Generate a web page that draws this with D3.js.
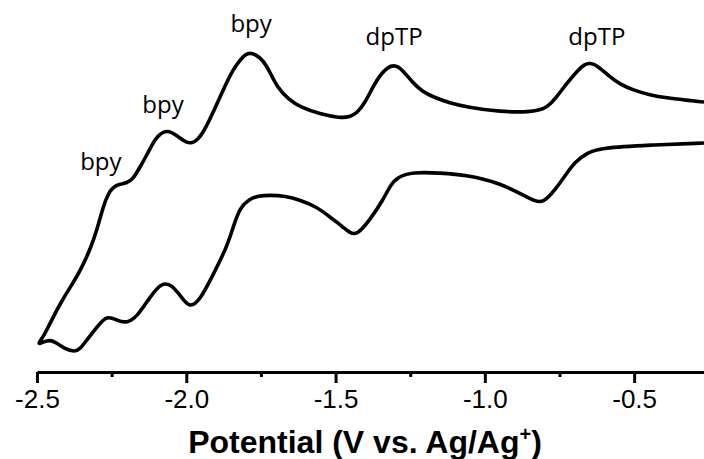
<!DOCTYPE html>
<meta charset="utf-8">
<style>
body { margin: 0; background: #fff; }
.cv { fill: none; stroke: #000; stroke-width: 3.6px; stroke-linejoin: round; }
.axis path, .axis line { stroke: #000; stroke-width: 3px; }
.axis text { font-family: "Liberation Sans", Arial, sans-serif; font-size: 26px; fill: #000; }
.peak { font-family: "Open Sans", sans-serif; font-size: 24px; fill: #000; }
.title { font-family: "Liberation Sans", Arial, sans-serif; font-size: 32px; font-weight: bold; fill: #000; }
</style>
<body>
<svg width="704" height="459"></svg>
<script src="https://d3js.org/d3.v7.min.js"></script>
<script>

var cathodicV = [-0.266, -0.447, -0.614, -0.658, -0.698, -0.725, -0.765, -0.805, -0.832, -0.859,
  -0.949, -1.060, -1.150, -1.241, -1.294, -1.318, -1.341, -1.385, -1.428, -1.452, -1.475, -1.519,
  -1.562, -1.619, -1.669, -1.720, -1.760, -1.787, -1.820, -1.844, -1.864, -1.914, -1.954, -1.988,
  -2.014, -2.048, -2.081, -2.122, -2.165, -2.199, -2.229, -2.266, -2.299, -2.333, -2.356, -2.373,
  -2.406, -2.440, -2.456, -2.480, -2.500];
var cathodicI = [22.9, 22.7, 22.4, 21.9, 21.0, 19.9, 18.2, 16.9, 17.1, 17.5,
  18.9, 19.7, 19.9, 20.0, 19.5, 18.6, 17.2, 15.2, 13.7, 13.9, 14.5, 15.5,
  16.5, 17.2, 17.6, 17.7, 17.6, 17.3, 16.5, 14.4, 12.5, 9.5, 7.2, 6.4,
  7.4, 8.7, 9.0, 7.5, 5.5, 4.9, 5.1, 5.7, 4.5, 3.2, 2.3, 2.0,
  2.3, 3.0, 3.2, 3.0, 2.7];

// anodic sweep, from -2.5 V back to -0.27 V
var anodicV = [-2.500, -2.477, -2.456, -2.416, -2.379, -2.349, -2.323, -2.299, -2.279, -2.262,
  -2.245, -2.222, -2.199, -2.178, -2.155, -2.132, -2.112, -2.095, -2.078, -2.061, -2.045, -2.021,
  -1.998, -1.978, -1.961, -1.944, -1.914, -1.887, -1.864, -1.844, -1.820, -1.800, -1.787, -1.770,
  -1.743, -1.720, -1.696, -1.659, -1.619, -1.552, -1.485, -1.452, -1.428, -1.402, -1.375, -1.351,
  -1.325, -1.301, -1.278, -1.241, -1.211, -1.174, -1.117, -1.060, -0.949, -0.839, -0.792, -0.762,
  -0.725, -0.688, -0.665, -0.648, -0.625, -0.581, -0.548, -0.504, -0.447, -0.390, -0.330, -0.266];
var anodicI = [2.7, 3.6, 4.9, 7.2, 8.9, 10.5, 12.2, 14.2, 16.5, 17.8,
  18.5, 18.8, 18.9, 19.3, 20.5, 21.7, 22.9, 23.6, 24.0, 24.1, 23.9, 23.4,
  22.9, 22.9, 23.3, 23.9, 25.7, 27.5, 29.0, 30.2, 31.2, 31.8, 31.9, 31.8,
  31.2, 30.0, 28.5, 27.3, 26.5, 25.8, 25.4, 25.5, 25.9, 26.9, 28.5, 29.7,
  30.5, 30.7, 30.3, 28.9, 28.1, 27.5, 26.9, 26.5, 26.0, 26.0, 26.4, 27.4,
  28.9, 30.2, 30.8, 30.9, 30.7, 29.5, 28.8, 28.2, 27.7, 27.4, 27.2, 27.0];

// peak assignments
var peakLabels = ["bpy", "bpy", "bpy", "dpTP", "dpTP"];
var peakV = [-2.286, -2.078, -1.783, -1.304, -0.625];
var peakI = [20.2, 25.9, 34.0, 32.7, 32.7];

var majorTicks = [-2.5, -2.0, -1.5, -1.0, -0.5];
var minorTicks = [-2.25, -1.75, -1.25, -0.75];

var svg = d3.select("svg");

var x = d3.scaleLinear().domain([-2.5, -0.266]).range([37, 704]);
var y = d3.scaleLinear().domain([0, 37.2]).range([372, 0]);

// one closed loop: cathodic then anodic
var loop = [];
cathodicV.forEach(function(v, i) { loop.push([v, cathodicI[i]]); });
anodicV.forEach(function(v, i) { if (i > 0) loop.push([v, anodicI[i]]); });

var line = d3.line()
    .x(function(d) { return x(d[0]); })
    .y(function(d) { return y(d[1]); })
    .curve(d3.curveBasis);

svg.append("path")
    .datum(loop)
    .attr("class", "cv")
    .attr("d", line);

// minor ticks first, then the main axis over them
svg.append("g")
    .attr("class", "axis")
    .attr("transform", "translate(0,372)")
    .call(d3.axisBottom(x).tickValues(minorTicks).tickSize(5).tickSizeOuter(0).tickFormat(""))
    .select(".domain").remove();

svg.append("g")
    .attr("class", "axis")
    .attr("transform", "translate(0,372)")
    .call(d3.axisBottom(x)
      .tickValues(majorTicks)
      .tickSize(11)
      .tickSizeOuter(0)
      .tickPadding(7)
      .tickFormat(function(d) { return d3.format(".1f")(d).replace("\u2212", "-"); }));

svg.selectAll(".axis text").attr("font-family", null).attr("font-size", null);

svg.append("g")
  .selectAll("text")
  .data(peakLabels)
  .enter().append("text")
    .attr("class", "peak")
    .attr("text-anchor", "middle")
    .attr("x", function(d, i) { return x(peakV[i]); })
    .attr("y", function(d, i) { return y(peakI[i]); })
    .text(function(d) { return d; });

var title = svg.append("text")
    .attr("class", "title")
    .attr("text-anchor", "middle")
    .attr("x", 365)
    .attr("y", 453);
title.append("tspan").text("Potential (V vs. Ag/Ag");
title.append("tspan").attr("dy", -12).style("font-size", "20px").text("+");
title.append("tspan").attr("dy", 12).text(")");

</script>
</body>
